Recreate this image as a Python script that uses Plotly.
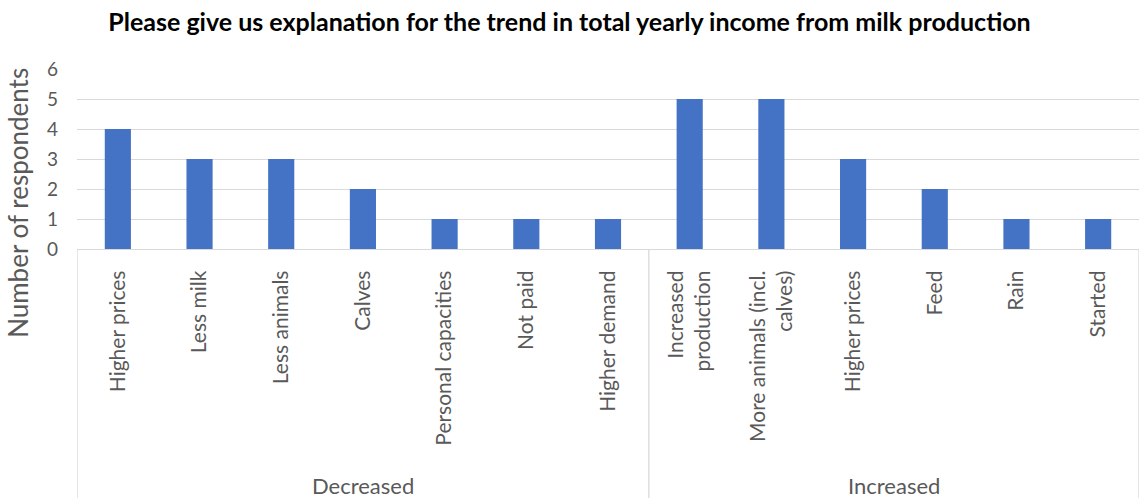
import plotly.graph_objects as go

# Survey answers: reasons given for the change in yearly milk income
groups = ["Decreased", "Increased"]
decreased_reasons = ["Higher prices", "Less milk", "Less animals", "Calves",
                     "Personal capacities", "Not paid", "Higher demand"]
decreased_counts = [4, 3, 3, 2, 1, 1, 1]
increased_reasons = ["Increased<br>production", "More animals (incl.<br>calves)",
                     "Higher prices", "Feed", "Rain", "Started"]
increased_counts = [5, 5, 3, 2, 1, 1]
y_ticks = [0, 1, 2, 3, 4, 5, 6]

labels = decreased_reasons + increased_reasons
counts = decreased_counts + increased_counts
positions = list(range(len(labels)))

FONT = "Lato, Calibri, Carlito, sans-serif"
GREY = "#595959"
LINE = "#d9d9d9"

fig = go.Figure(
    go.Bar(
        x=positions,
        y=counts,
        width=0.32,
        marker=dict(color="#4472C4", line=dict(width=0)),
        hoverinfo="y",
    )
)

# Group boundaries and group captions below the rotated labels
n_dec = len(decreased_reasons)
bounds = [-0.5, n_dec - 0.5, len(labels) - 0.5]
for b in bounds:
    fig.add_shape(type="line", xref="x", yref="paper", x0=b, x1=b, y0=0, y1=-1.4,
                  line=dict(color=LINE, width=1.3), layer="below")
centers = [(n_dec - 1) / 2, n_dec + (len(increased_reasons) - 1) / 2]
for g, c in zip(groups, centers):
    fig.add_annotation(x=c, xref="x", y=-1.315, yref="paper", text=g, showarrow=False,
                       font=dict(family=FONT, size=22, color=GREY), yanchor="middle")

# Vertical axis caption
fig.add_annotation(x=-0.0556, xref="paper", y=0.256, yref="paper",
                   text="Number of respondents", textangle=-90, showarrow=False,
                   xanchor="center", yanchor="middle",
                   font=dict(family=FONT, size=26, color=GREY))

fig.update_layout(
    width=1139,
    height=498,
    margin=dict(l=77, r=0, t=69, b=249),
    paper_bgcolor="white",
    plot_bgcolor="white",
    showlegend=False,
    title=dict(
        text="<b>Please give us explanation for the trend in total yearly income from milk production</b>",
        x=0.5, xanchor="center", y=0.955, yanchor="middle",
        font=dict(family=FONT, size=25, color="black"),
    ),
    xaxis=dict(
        range=[-0.5, len(labels) - 0.5],
        tickmode="array",
        tickvals=positions,
        ticktext=labels,
        tickangle=-90,
        tickfont=dict(family=FONT, size=21, color=GREY),
        ticklabelstandoff=12,
        showgrid=False,
        zeroline=False,
        showline=True,
        linecolor=LINE,
        linewidth=1.3,
        automargin=False,
    ),
    yaxis=dict(
        range=[0, 6],
        tickvals=y_ticks,
        tickfont=dict(family=FONT, size=19, color=GREY),
        ticklabelstandoff=18,
        showgrid=True,
        gridcolor=LINE,
        gridwidth=1.3,
        zeroline=False,
        showline=False,
        automargin=False,
    ),
)

fig.write_html("out.html")
